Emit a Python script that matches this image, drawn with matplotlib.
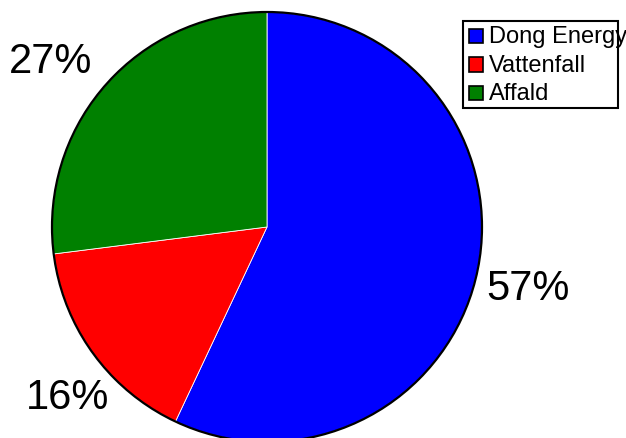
import matplotlib
matplotlib.use("Agg")
import matplotlib.pyplot as plt
from matplotlib.patches import Rectangle, Circle

# data
labels = ['Dong Energy', 'Vattenfall', 'Affald']
shares = [57, 16, 27]
colors = ['#0000ff', '#ff0000', '#008000']
# where the percentage labels sit in the original (pixel centres)
label_px = [(528, 289), (68, 398), (51, 62)]

plt.rcParams['font.family'] = ['Liberation Sans', 'DejaVu Sans']

W, H = 626, 438
fig = plt.figure(figsize=(W / 100, H / 100), dpi=100)

# pie centre and radius in pixels
cx, cy, r = 267, 227, 215
ax = fig.add_axes([(cx - r) / W, (H - cy - r) / H, 2 * r / W, 2 * r / H])
wedges, texts, autotexts = ax.pie(
    shares, colors=colors, startangle=90, counterclock=False,
    autopct=lambda p: f'{p:.0f}%', pctdistance=1.25,
    wedgeprops=dict(edgecolor='white', linewidth=0.6),
    textprops=dict(fontsize=30, color='black'))
for w in wedges:
    w.set_clip_on(False)
for t, (px, py) in zip(autotexts, label_px):
    t.set_position(((px - cx) / r, (cy - py) / r))
ax.set_xlim(-1, 1)
ax.set_ylim(-1, 1)
ax.add_patch(Circle((0, 0), 1, fill=False, edgecolor='black', lw=1.6, clip_on=False))


def fx(px):
    return px / W


def fy(py):
    return (H - py) / H


# legend box (text runs past the right edge like the original)
fig.add_artist(Rectangle((fx(463), fy(108)), 155 / W, 87 / H,
                         transform=fig.transFigure, facecolor='white',
                         edgecolor='black', lw=1.5))
baseline = 43
for lab, col in zip(labels, colors):
    fig.add_artist(Rectangle((fx(469), fy(baseline)), 14 / W, 14 / H,
                             transform=fig.transFigure, facecolor=col,
                             edgecolor='black', lw=1.2))
    fig.text(fx(489), fy(baseline), lab, fontsize=17, va='baseline', ha='left')
    baseline += 28.5

fig.savefig('out.png', dpi=100)
